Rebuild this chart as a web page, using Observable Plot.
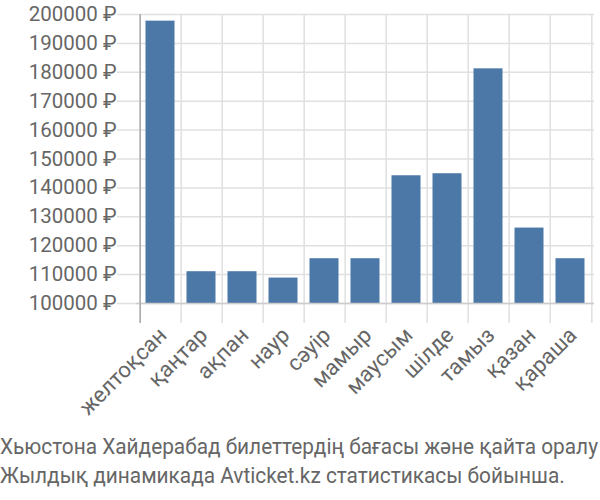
<!DOCTYPE html>
<html>
<head>
<meta charset="utf-8">
<script src="https://cdn.jsdelivr.net/npm/d3@7"></script>
<script src="https://cdn.jsdelivr.net/npm/@observablehq/plot@0.6"></script>
<style>
  body { margin: 0; background: #fff; font-family: Roboto, sans-serif; overflow: hidden; }
  #chart svg { display: block; }
  .caption { color: #666; font-family: Roboto, sans-serif; font-size: 22px; line-height: 29px; margin: 2px 0 0 0; white-space: nowrap; display: inline-block; transform-origin: left top; }
</style>
</head>
<body>
<div id="chart"></div>
<div class="caption" id="cap">Хьюстона Хайдерабад билеттердің бағасы және қайта оралу<br>Жылдық динамикада Avticket.kz статистикасы бойынша.</div>
<script>
const months = ["желтоқсан", "қаңтар", "ақпан", "наур", "сәуір", "мамыр", "маусым", "шілде", "тамыз", "қазан", "қараша"];
const prices = [197700, 111000, 111000, 108800, 115500, 115500, 144200, 144900, 181200, 126100, 115500];
const yTicks = [100000, 110000, 120000, 130000, 140000, 150000, 160000, 170000, 180000, 190000, 200000];

const data = months.map((m, i) => ({month: m, price: prices[i]}));

const W = 600, H = 430, mL = 136, mR = 6, mT = 14, mB = 127;
const bw = (W - mL - mR) / months.length;

const chart = Plot.plot({
  width: W,
  height: H,
  marginLeft: mL,
  marginRight: mR,
  marginTop: mT,
  marginBottom: mB,
  style: {fontFamily: "Roboto, sans-serif", background: "#fff"},
  x: {domain: months, padding: 0, axis: null},
  y: {domain: [100000, 200000], axis: null},
  marks: [
    Plot.ruleY(yTicks, {y: d => d, stroke: "#e0e0e0", strokeWidth: 1.5, insetLeft: -19}),
    Plot.ruleX(months, {x: d => d, dx: -bw / 2, stroke: "#e0e0e0", strokeWidth: 1.5, insetBottom: -20}),
    Plot.ruleX([months[months.length - 1]], {x: d => d, dx: bw / 2, stroke: "#e0e0e0", strokeWidth: 1.5, insetBottom: -20}),
    Plot.barY(data, {x: "month", y1: 100000, y2: "price", fill: "#4c78a8", insetLeft: 5.5, insetRight: 6.5}),
    Plot.ruleY([100000], {stroke: "#cccccc", strokeWidth: 1.5}),
    Plot.ruleX([months[0]], {x: d => d, dx: -bw / 2, stroke: "#aaaaaa", strokeWidth: 1.5, insetBottom: -20}),
    Plot.text(yTicks, {
      y: d => d, frameAnchor: "left", dx: -20, textAnchor: "end",
      text: d => d + " ₽", fill: "#666", fontSize: 20.5
    }),
    Plot.text(data, {
      x: "month", y: 100000, text: "month", rotate: -45, textAnchor: "end",
      fill: "#666", fontSize: 22, dx: 2, dy: 28
    })
  ]
});
document.getElementById("chart").appendChild(chart);

// fit the caption to the page width, as in the reference
const cap = document.getElementById("cap");
const w = cap.getBoundingClientRect().width;
if (w > 598) cap.style.transform = `scaleX(${598 / w})`;
</script>
</body>
</html>
